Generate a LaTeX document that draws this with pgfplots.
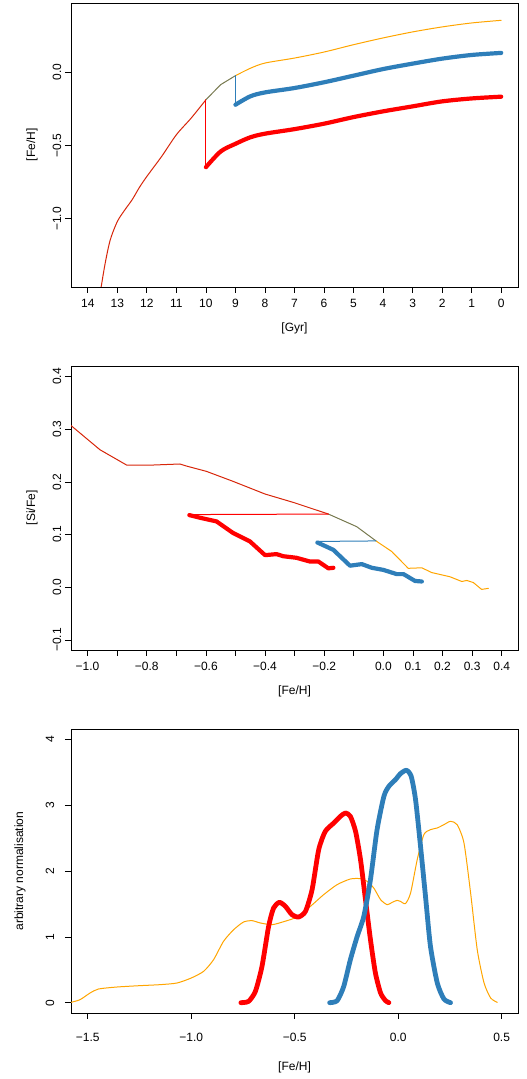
\documentclass[border=0pt]{standalone}
\usepackage{fontspec}
\setmainfont{Liberation Sans}
\usepackage{pgfplots}
\pgfplotsset{compat=1.18}
\definecolor{cred}{RGB}{255,0,0}
\definecolor{cblue}{RGB}{46,126,185}
\definecolor{corange}{RGB}{255,165,0}
\definecolor{cmixa}{RGB}{215,38,10}
\definecolor{cmixb}{RGB}{120,122,80}

\pgfplotsset{
  rstyle/.style={
    scale only axis, width=447pt, height=284pt,
    tick pos=left, tick align=outside, major tick length=6pt,
    every tick/.style={black, line width=0.8pt},
    axis line style={line width=0.8pt},
    font=\fontsize{12}{14}\selectfont,
    /pgf/number format/assume math mode=true,
    xticklabel style={anchor=center, yshift=-10pt},
    yticklabel style={rotate=90, anchor=center, yshift=8pt},
    xlabel style={at={(axis description cs:0.5,0)}, anchor=center, yshift=-41pt},
    ylabel style={at={([xshift=-39pt]axis description cs:0,0.5)}, anchor=center},
    every axis plot/.append style={line cap=round, line join=round},
  },
  thin/.style={line width=1pt},
  fat/.style={line width=4.2pt},
}

\begin{document}
\begin{tikzpicture}
\useasboundingbox (0,0) rectangle (527pt,1079pt);

% panel 1: age-metallicity
\begin{axis}[rstyle, at={(71pt,792pt)}, anchor=south west,
  x dir=reverse, xmin=-0.57, xmax=14.57, ymin=-1.464, ymax=0.47,
  xtick={0,1,...,14},
  ytick={-1,-0.5,0}, yticklabels={−1.0,−0.5,0.0},
  xlabel={[Gyr]}, ylabel={[Fe/H]}]
\addplot[corange, thin, smooth] coordinates {
  (9,-0.025) (8.5,0.025) (8,0.061) (7,0.095) (6,0.136) (5,0.186)
  (4,0.232) (3,0.273) (2,0.307) (1,0.334) (0,0.352)};
\addplot[cmixa, thin, smooth] coordinates {
  (13.55,-1.466) (13.41,-1.30) (13.24,-1.143) (13,-1.018) (12.75,-0.94)
  (12.5,-0.87) (12.25,-0.785) (12,-0.711) (11.5,-0.575) (11,-0.427)
  (10.5,-0.314) (10,-0.189)};
\addplot[cmixb, thin] coordinates {(10,-0.189) (9.5,-0.086) (9,-0.025)};
\addplot[cred, thin] coordinates {(10,-0.189) (10,-0.648)};
\addplot[cblue, thin] coordinates {(9,-0.025) (9,-0.223)};
\addplot[cred, fat, smooth] coordinates {
  (10,-0.648) (9.5,-0.541) (9,-0.489) (8.5,-0.445) (8,-0.42) (7,-0.389)
  (6,-0.352) (5,-0.307) (4,-0.268) (3,-0.234) (2,-0.2) (1,-0.18) (0,-0.168)};
\addplot[cblue, fat, smooth] coordinates {
  (9,-0.223) (8.5,-0.166) (8,-0.139) (7,-0.109) (6,-0.070) (5,-0.025)
  (4,0.020) (3,0.057) (2,0.091) (1,0.116) (0,0.130)};
\end{axis}

% panel 2: [Si/Fe] vs [Fe/H]
\begin{axis}[rstyle, at={(71pt,429pt)}, anchor=south west,
  xmin=-1.056, xmax=0.455, ymin=-0.119, ymax=0.42,
  xtick={-1,-0.9,-0.8,-0.7,-0.6,-0.5,-0.4,-0.3,-0.2,-0.1,0,0.1,0.2,0.3,0.4},
  xticklabels={{−1.0},{},{−0.8},{},{−0.6},{},{−0.4},{},{−0.2},{},{0.0},{0.1},{0.2},{0.3},{0.4}},
  ytick={-0.1,0,0.1,0.2,0.3,0.4}, yticklabels={−0.1,0.0,0.1,0.2,0.3,0.4},
  xlabel={[Fe/H]}, ylabel={[Si/Fe]}]
\addplot[cmixa, thin] coordinates {
  (-1.056,0.307) (-0.958,0.261) (-0.868,0.232) (-0.78,0.232) (-0.688,0.234)
  (-0.665,0.230) (-0.598,0.220) (-0.508,0.201) (-0.4,0.177) (-0.304,0.161)
  (-0.186,0.139)};
\addplot[cmixb, thin] coordinates {(-0.186,0.139) (-0.09,0.115) (-0.025,0.088)};
\addplot[corange, thin] coordinates {
  (-0.025,0.088) (0.028,0.068) (0.084,0.036) (0.13,0.037) (0.163,0.028)
  (0.225,0.020) (0.265,0.011) (0.282,0.013) (0.304,0.009) (0.332,-0.004)
  (0.355,-0.002)};
\addplot[cred, thin] coordinates {(-0.186,0.139) (-0.656,0.138)};
\addplot[cblue, thin] coordinates {(-0.025,0.088) (-0.223,0.087)};
\addplot[cred, fat] coordinates {
  (-0.656,0.137) (-0.62,0.132) (-0.564,0.125) (-0.508,0.103) (-0.451,0.087)
  (-0.4,0.061) (-0.361,0.063) (-0.339,0.059) (-0.294,0.056) (-0.249,0.049)
  (-0.22,0.049) (-0.186,0.036) (-0.169,0.037)};
\addplot[cblue, fat] coordinates {
  (-0.223,0.085) (-0.169,0.071) (-0.113,0.041) (-0.073,0.044) (-0.039,0.037)
  (0.0,0.033) (0.045,0.025) (0.068,0.025) (0.107,0.012) (0.13,0.011)};
\end{axis}

% panel 3: metallicity distributions
\begin{axis}[rstyle, at={(71pt,66pt)}, anchor=south west,
  xmin=-1.581, xmax=0.579, ymin=-0.157, ymax=4.162,
  xtick={-1.5,-1,-0.5,0,0.5}, xticklabels={−1.5,−1.0,−0.5,0.0,0.5},
  ytick={0,1,2,3,4}, yticklabels={0,1,2,3,4},
  xticklabel style={yshift=-8pt},
  yticklabel style={yshift=7pt},
  xlabel style={yshift=-13pt},
  ylabel style={at={([xshift=-51pt]axis description cs:0,0.5)}},
  xlabel={[Fe/H]}, ylabel={arbitrary normalisation}]
\addplot[corange, thin, smooth, tension=0.4] coordinates {
  (-1.581,0.005) (-1.537,0.046) (-1.489,0.147) (-1.448,0.208) (-1.36,0.238)
  (-1.247,0.259) (-1.15,0.274) (-1.069,0.299) (-1.0,0.375) (-0.94,0.477)
  (-0.892,0.654) (-0.844,0.933) (-0.795,1.11) (-0.747,1.227) (-0.706,1.247)
  (-0.666,1.212) (-0.61,1.186) (-0.553,1.232) (-0.489,1.303) (-0.424,1.465)
  (-0.36,1.643) (-0.295,1.795) (-0.231,1.881) (-0.182,1.886) (-0.15,1.845)
  (-0.118,1.744) (-0.085,1.567) (-0.053,1.49) (-0.029,1.526) (-0.005,1.556)
  (0.011,1.541) (0.035,1.506) (0.06,1.668) (0.092,2.175) (0.124,2.555)
  (0.156,2.631) (0.189,2.657) (0.221,2.707) (0.253,2.758) (0.285,2.707)
  (0.318,2.428) (0.35,1.668) (0.382,0.806) (0.415,0.299) (0.447,0.071)
  (0.479,0.005)};
\addplot[cred, line width=4.8pt, smooth, tension=0.4] coordinates {
  (-0.76,0) (-0.723,0.02) (-0.69,0.172) (-0.658,0.553) (-0.626,1.161)
  (-0.602,1.44) (-0.574,1.526) (-0.545,1.465) (-0.513,1.338) (-0.481,1.303)
  (-0.448,1.389) (-0.416,1.719) (-0.384,2.327) (-0.352,2.606) (-0.311,2.733)
  (-0.279,2.834) (-0.255,2.885) (-0.231,2.834) (-0.206,2.606) (-0.182,2.175)
  (-0.158,1.567) (-0.134,0.959) (-0.11,0.451) (-0.085,0.147) (-0.061,0.03)
  (-0.045,0)};
\addplot[cblue, line width=4.8pt, smooth, tension=0.4] coordinates {
  (-0.331,0) (-0.295,0.03) (-0.263,0.248) (-0.231,0.654) (-0.198,1.009)
  (-0.166,1.313) (-0.134,1.871) (-0.102,2.631) (-0.069,3.138) (-0.045,3.29)
  (-0.013,3.392) (0.011,3.483) (0.04,3.534) (0.063,3.442) (0.084,3.087)
  (0.108,2.378) (0.132,1.617) (0.156,0.857) (0.189,0.299) (0.221,0.056)
  (0.253,0)};
\end{axis}
\end{tikzpicture}
\end{document}
